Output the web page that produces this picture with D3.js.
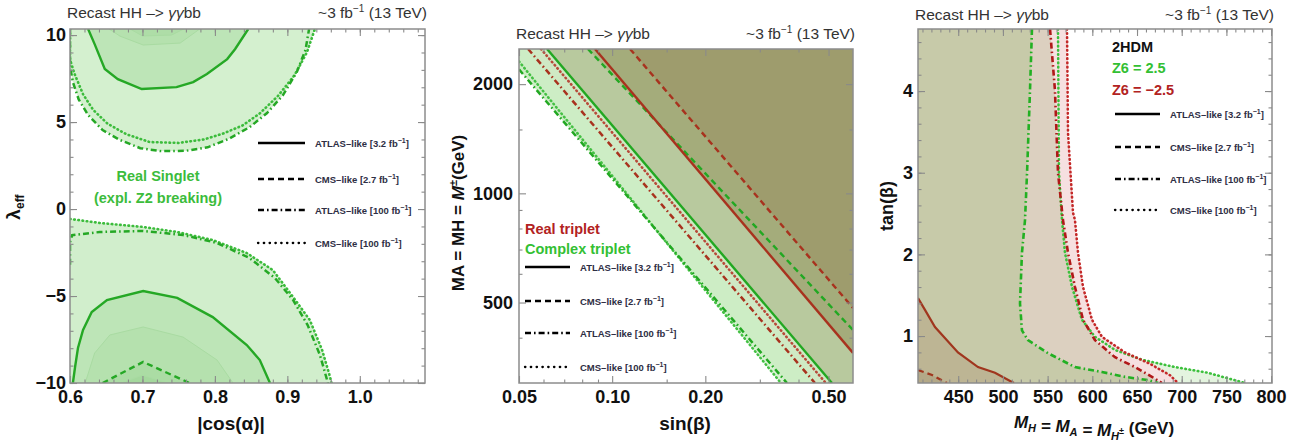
<!DOCTYPE html>
<html>
<head>
<meta charset="utf-8">
<script src="https://cdn.jsdelivr.net/npm/d3@7"></script>
<style>
body { margin: 0; background: #fff; }
text { font-family: "Liberation Sans", Arial, sans-serif; }
</style>
</head>
<body>
<svg id="chart" width="1315" height="444"></svg>
<script>
// ---------------- panel 1 : real singlet (|cos a| vs lambda_eff) ----------------
var singletTicksX = [0.6, 0.7, 0.8, 0.9, 1.0];
var singletTicksY = [-10, -5, 0, 5, 10];
var singletDashDotTop = [[0.6,10.35],[0.6,8.2],[0.604,7.3],[0.612,6.3],[0.625,5.4],[0.645,4.54],[0.669,3.97],[0.697,3.5],[0.725,3.33],[0.76,3.35],[0.79,3.55],[0.82,4.05],[0.848,4.71],[0.872,5.52],[0.894,6.55],[0.913,7.87],[0.925,9.14],[0.93,10.35]];
var singletDottedTop = [[0.6,10.35],[0.6,8.6],[0.606,7.8],[0.618,6.6],[0.632,5.7],[0.652,4.9],[0.678,4.3],[0.71,3.85],[0.75,3.8],[0.785,4.0],[0.812,4.35],[0.838,4.8],[0.862,5.5],[0.887,6.5],[0.91,7.7],[0.927,9.0],[0.938,10.35]];
var singletSolidTop = [[0.625,10.35],[0.634,9.48],[0.648,8.05],[0.666,7.47],[0.699,6.9],[0.747,7.01],[0.770,7.30],[0.789,7.76],[0.817,8.62],[0.828,9.2],[0.846,10.35]];
var singletFaintTop1 = [[0.654,10.35],[0.669,9.94],[0.701,9.43],[0.752,9.54],[0.779,10.35]];
var singletFaintTop2 = [[0.683,10.35],[0.70,9.95],[0.74,10.0],[0.757,10.35]];
var singletDottedBot = [[0.6,-0.57],[0.641,-0.8],[0.701,-1.03],[0.748,-1.32],[0.797,-1.78],[0.844,-2.53],[0.88,-3.51],[0.908,-5.06],[0.931,-6.38],[0.948,-8.1],[0.959,-9.66],[0.961,-10]];
var singletDashDotBot = [[0.6,-3.2],[0.6,-1.9],[0.603,-1.5],[0.641,-1.32],[0.701,-1.26],[0.756,-1.49],[0.803,-1.95],[0.848,-2.82],[0.883,-3.97],[0.908,-5.23],[0.928,-6.67],[0.945,-8.39],[0.956,-10]];
var singletSolidBot = [[0.604,-10],[0.607,-9.08],[0.611,-7.99],[0.618,-6.95],[0.63,-5.92],[0.651,-5.23],[0.701,-4.71],[0.748,-5.11],[0.797,-6.21],[0.844,-7.82],[0.862,-8.68],[0.876,-10]];
var singletFaintBot1 = [[0.621,-10],[0.634,-8.28],[0.655,-7.24],[0.701,-6.78],[0.756,-7.36],[0.803,-8.68],[0.825,-10]];
var singletDashedBot = [[0.645,-10],[0.701,-8.79],[0.765,-10]];
var singletFaintBot2 = [[0.67,-10],[0.70,-9.55],[0.735,-10]];

// ---------------- panel 2 : triplets (sin b vs MA) ----------------
var tripletTicksX = [0.05, 0.1, 0.2, 0.5];
var tripletTicksY = [500, 1000, 2000];
var complexDotted  = [[0.05,2310],[0.351,300]];
var complexDashDot = [[0.05,2196],[0.367,300]];
var realDashDot    = [[0.0535,2500],[0.452,300]];
var realDotted     = [[0.0589,2500],[0.49,300]];
var complexSolid   = [[0.0616,2500],[0.513,300]];
var complexDashed  = [[0.0835,2500],[0.6,420]];
var realSolid      = [[0.088,2500],[0.6,363]];
var realDashed     = [[0.1142,2500],[0.6,483]];

// ---------------- panel 3 : 2HDM (MH vs tan b) ----------------
var hdmTicksX = [450, 500, 550, 600, 650, 700, 750, 800];
var hdmTicksY = [1, 2, 3, 4];
var z6PosDashDot = [[532.5,4.76],[530.3,4.01],[527,3.0],[524.7,2.42],[521.3,2.02],[519.1,1.4],[521.3,1.07],[528,0.95],[550.4,0.79],[580.6,0.62],[610.8,0.56],[636.5,0.5],[662.3,0.46],[673.5,0.425]];
var z6PosDotted  = [[561.6,4.76],[562.7,3.0],[566.1,2.42],[569.4,2.02],[577.3,1.6],[588.4,1.2],[603,0.99],[625.4,0.83],[655.6,0.71],[692.5,0.62],[729.4,0.55],[770.8,0.425]];
var z6NegDashDot = [[552.7,4.76],[558.2,4.01],[561.6,3.0],[567.2,2.42],[572.8,2.02],[580.6,1.6],[589.6,1.2],[603,0.95],[625.4,0.74],[647.7,0.62],[666.7,0.5],[677.9,0.425]];
var z6NegDotted  = [[571.7,4.76],[572.8,3.49],[578.4,2.51],[580.6,2.42],[584,2.02],[589.6,1.6],[599.6,1.2],[610.8,0.99],[636.5,0.8],[664.5,0.66],[686.9,0.52],[695.8,0.425]];
var z6NegSolid   = [[405,1.465],[412.8,1.32],[424,1.11],[449.7,0.8],[472.1,0.62],[491.1,0.55],[510.1,0.437],[512.4,0.425]];
var z6NegDashed  = [[405,0.584],[420.7,0.523],[437.4,0.425]];

var legendNames = [["ATLAS\u2013like [3.2 fb", "solid"], ["CMS\u2013like [2.7 fb", "dashed"], ["ATLAS\u2013like [100 fb", "dashdot"], ["CMS\u2013like [100 fb", "dotted"]];

var svg = d3.select("#chart");
var defs = svg.append("defs");

var dashes = {solid: null, dashed: "6,4", dashdot: "6,3,1.6,3", dotted: "0.6,3.6"};

function makePanel(id, box, xScale, yScale) {
    var x = xScale.range([box.left, box.right]);
    var y = yScale.range([box.bottom, box.top]);
    defs.append("clipPath").attr("id", "clip_" + id)
        .append("rect")
        .attr("x", box.left).attr("y", box.top)
        .attr("width", box.right - box.left)
        .attr("height", box.bottom - box.top);
    var g = svg.append("g").attr("class", "panel_" + id);
    var plot = g.append("g").attr("clip-path", "url(#clip_" + id + ")");
    return {box: box, x: x, y: y, g: g, plot: plot};
}

// corner of the plotting domain: "bl", "br", "tl", "tr"
function corner(p, c) {
    var xd = p.x.domain(), yd = p.y.domain();
    return [c[1] == "l" ? xd[0] : xd[1], c[0] == "b" ? yd[0] : yd[1]];
}

function fillRegion(p, pts, corners, color) {
    var line = d3.line().x(d => p.x(d[0])).y(d => p.y(d[1]));
    var all = pts.concat(corners.map(c => corner(p, c)));
    p.plot.append("path")
        .attr("d", line(all) + "Z")
        .attr("fill", color)
        .attr("stroke", "none");
}

function drawCurve(p, pts, kind, color, width) {
    var line = d3.line().x(d => p.x(d[0])).y(d => p.y(d[1]));
    p.plot.append("path")
        .attr("d", line(pts))
        .attr("fill", "none")
        .attr("stroke", color)
        .attr("stroke-width", kind == "dotted" ? width + 0.4 : width)
        .attr("stroke-dasharray", dashes[kind])
        .attr("stroke-linecap", kind == "dotted" ? "round" : "butt");
}

function addAxes(p, xMajor, xMinor, yMajor, yMinor, xFmt, yFmt, yPad) {
    var b = p.box;
    var ax = p.g.append("g");
    var sides = [
        [d3.axisBottom(p.x), "translate(0," + b.bottom + ")", xMajor, xMinor, xFmt, 7],
        [d3.axisTop(p.x), "translate(0," + b.top + ")", xMajor, xMinor, null, 0],
        [d3.axisLeft(p.y), "translate(" + b.left + ",0)", yMajor, yMinor, yFmt, yPad],
        [d3.axisRight(p.y), "translate(" + b.right + ",0)", yMajor, yMinor, null, 0]
    ];
    sides.forEach(function (s) {
        var minor = ax.append("g").attr("transform", s[1])
            .call(s[0].tickValues(s[3]).tickSize(-3.5).tickFormat(""));
        minor.select(".domain").remove();
        var major = ax.append("g").attr("transform", s[1])
            .call(s[0].tickValues(s[2]).tickSize(-7).tickPadding(s[5])
                .tickFormat(s[4] ? s[4] : ""));
        major.select(".domain").remove();
        major.selectAll("text")
            .attr("fill", "#111")
            .style("font-size", "18px")
            .style("font-weight", "bold")
            .style("font-family", "'Liberation Sans', Arial, sans-serif");
    });
    ax.selectAll(".tick line").attr("stroke", "#8a8a8a").attr("stroke-width", 1.1);
    ax.append("rect")
        .attr("x", b.left).attr("y", b.top)
        .attr("width", b.right - b.left).attr("height", b.bottom - b.top)
        .attr("fill", "none").attr("stroke", "#8c8c8c").attr("stroke-width", 1.5);
}

function addHeader(p, y) {
    var b = p.box;
    var t = p.g.append("text").attr("x", b.left - 3).attr("y", y)
        .style("font-size", "15.5px").attr("fill", "#333");
    t.append("tspan").text("Recast HH \u2013> ");
    t.append("tspan").style("font-style", "italic").text("\u03b3\u03b3");
    t.append("tspan").text("bb");
    var r = p.g.append("text").attr("x", b.right + 2).attr("y", y)
        .attr("text-anchor", "end")
        .style("font-size", "15.5px").attr("fill", "#333");
    r.append("tspan").text("~3 fb");
    r.append("tspan").attr("dy", -6).style("font-size", "10px").text("\u22121");
    r.append("tspan").attr("dy", 6).text(" (13 TeV)");
}

function addLegend(p, x0, x1, rows) {
    legendNames.forEach(function (d, i) {
        p.g.append("line")
            .attr("x1", x0).attr("x2", x1)
            .attr("y1", rows[i]).attr("y2", rows[i])
            .attr("stroke", "#000")
            .attr("stroke-width", d[1] == "dotted" ? 2.3 : 2.4)
            .attr("stroke-dasharray", d[1] == "dotted" ? "0.4,5.4" : dashes[d[1]])
            .attr("stroke-linecap", d[1] == "dotted" ? "round" : "butt");
        var t = p.g.append("text")
            .attr("x", x1 + 10).attr("y", rows[i] + 4)
            .style("font-size", "9.5px").style("font-weight", "bold")
            .attr("fill", "#2e2e44");
        t.append("tspan").text(d[0]);
        t.append("tspan").attr("dy", -4).style("font-size", "7px").text("\u22121");
        t.append("tspan").attr("dy", 4).text("]");
    });
}

function boldText(p, x, y, str, color, size, anchor) {
    return p.g.append("text").attr("x", x).attr("y", y)
        .attr("text-anchor", anchor || "start")
        .style("font-size", (size || 14) + "px").style("font-weight", "bold")
        .attr("fill", color).text(str);
}

//
// PANEL 1
//
var p1 = makePanel("singlet", {left: 70, right: 425, top: 29, bottom: 383},
    d3.scaleLinear().domain([0.6, 1.09]), d3.scaleLinear().domain([-10, 10.35]));

fillRegion(p1, singletDashDotTop, [], "#d4f0cf");
fillRegion(p1, singletDottedTop, [], "#d4f0cf");
fillRegion(p1, singletSolidTop, [], "#bde5b7");
fillRegion(p1, singletFaintTop1, [], "#b5e1ae");
fillRegion(p1, singletFaintTop2, [], "#aedda7");
fillRegion(p1, singletDottedBot, ["bl"], "#d4f0cf");
fillRegion(p1, singletDashDotBot, ["bl"], "#d1eecc");
fillRegion(p1, singletSolidBot, [], "#bde5b7");
fillRegion(p1, singletFaintBot1, [], "#b5e1ae");
fillRegion(p1, singletDashedBot, [], "#abdca4");
fillRegion(p1, singletFaintBot2, [], "#a4d89d");

var g1 = "#25a825";
drawCurve(p1, singletFaintTop1, "solid", "#a9dba2", 1);
drawCurve(p1, singletFaintTop2, "solid", "#a9dba2", 1);
drawCurve(p1, singletFaintBot1, "solid", "#a9dba2", 1);
drawCurve(p1, singletFaintBot2, "solid", "#a9dba2", 1);
drawCurve(p1, singletDottedTop, "dotted", "#3cbc3c", 2.2);
drawCurve(p1, singletDashDotTop, "dashdot", g1, 2.5);
drawCurve(p1, singletSolidTop, "solid", g1, 2.4);
drawCurve(p1, singletDottedBot, "dotted", "#3cbc3c", 2.2);
drawCurve(p1, singletDashDotBot, "dashdot", g1, 2.5);
drawCurve(p1, singletSolidBot, "solid", g1, 2.4);
drawCurve(p1, singletDashedBot, "dashed", g1, 2.4);

addAxes(p1, singletTicksX, d3.range(0.6, 1.09, 0.02), singletTicksY, d3.range(-10, 10.5, 1),
    d => d.toFixed(1), d => d < 0 ? "\u2212" + Math.abs(d) : d, 4);
addHeader(p1, 18);
addLegend(p1, 258, 305, [143, 179, 210, 243]);
boldText(p1, 158, 181, "Real Singlet", "#3cbc3c", 14.5, "middle");
boldText(p1, 158, 203, "(expl. Z2 breaking)", "#3cbc3c", 14.5, "middle");

p1.g.append("text").attr("x", 231).attr("y", 430).attr("text-anchor", "middle")
    .style("font-size", "19px").style("font-weight", "bold").attr("fill", "#111")
    .text("|cos(\u03b1)|");
var l1 = p1.g.append("text").attr("transform", "translate(20,207) rotate(-90)")
    .attr("text-anchor", "middle")
    .style("font-size", "19px").style("font-weight", "bold").attr("fill", "#111");
l1.append("tspan").text("\u03bb");
l1.append("tspan").attr("dy", 4).style("font-size", "12px").text("eff");

//
// PANEL 2
//
var p2 = makePanel("triplet", {left: 519, right: 853, top: 49, bottom: 383},
    d3.scaleLog().domain([0.05, 0.6]), d3.scaleLog().domain([300, 2500]));

fillRegion(p2, complexDotted, ["br", "tr", "tl"], "#d8f2d2");
fillRegion(p2, complexDashDot, ["br", "tr", "tl"], "#cdedc5");
fillRegion(p2, realDashDot, ["br", "tr", "tl"], "#cfe9c4");
fillRegion(p2, complexSolid, ["br", "tr", "tl"], "#b8c99e");
fillRegion(p2, complexDashed, ["br", "tr", "tl"], "#acb986");
fillRegion(p2, realSolid, ["br", "tr", "tl"], "#a4ac7b");
fillRegion(p2, realDashed, ["br", "tr", "tl"], "#9e9c6d");

var g2 = "#22a822", r2 = "#a8321e";
drawCurve(p2, complexDotted, "dotted", "#44c044", 2.2);
drawCurve(p2, complexDashDot, "dashdot", g2, 2.5);
drawCurve(p2, realDashDot, "dashdot", r2, 2.5);
drawCurve(p2, realDotted, "dotted", "#b84a3a", 2.2);
drawCurve(p2, complexSolid, "solid", g2, 2.4);
drawCurve(p2, complexDashed, "dashed", g2, 2.4);
drawCurve(p2, realSolid, "solid", r2, 2.4);
drawCurve(p2, realDashed, "dashed", r2, 2.4);

addAxes(p2, tripletTicksX, [0.06, 0.07, 0.08, 0.09, 0.15, 0.3, 0.4], tripletTicksY, [400, 600, 700, 800, 900, 1500],
    d => d.toFixed(2), d => d, 6);
addHeader(p2, 39);
addLegend(p2, 525, 570, [267, 301, 333, 367]);
boldText(p2, 525, 234, "Real triplet", "#b22222", 14.5);
boldText(p2, 525, 254, "Complex triplet", "#33c033", 14.5);

p2.g.append("text").attr("x", 685).attr("y", 430).attr("text-anchor", "middle")
    .style("font-size", "19px").style("font-weight", "bold").attr("fill", "#111")
    .text("sin(\u03b2)");
var l2 = p2.g.append("text").attr("transform", "translate(464,213) rotate(-90)")
    .attr("text-anchor", "middle")
    .style("font-size", "17px").style("font-weight", "bold").attr("fill", "#111");
l2.append("tspan").text("MA = MH = ");
l2.append("tspan").style("font-style", "italic").text("M");
l2.append("tspan").attr("dy", -7).style("font-size", "11px").text("\u00b1");
l2.append("tspan").attr("dy", 7).text("(GeV)");

//
// PANEL 3
//
var p3 = makePanel("hdm", {left: 918, right: 1272, top: 29, bottom: 383},
    d3.scaleLinear().domain([405, 801]), d3.scaleLinear().domain([0.425, 4.76]));

fillRegion(p3, z6PosDotted, ["bl", "tl"], "#e4f4df");
fillRegion(p3, z6NegDotted, ["bl", "tl"], "#f6e0e0");
fillRegion(p3, z6NegDashDot, ["bl", "tl"], "#dcd0c0");
fillRegion(p3, z6PosDashDot, ["bl", "tl"], "#c7caa9");
fillRegion(p3, z6NegSolid, ["bl"], "#bdb594");
fillRegion(p3, z6NegDashed, ["bl"], "#b3a887");

var g3 = "#22b022", r3 = "#b01818";
drawCurve(p3, z6PosDotted, "dotted", "#3cc03c", 2.2);
drawCurve(p3, z6NegDotted, "dotted", "#c42828", 2.2);
drawCurve(p3, z6NegDashDot, "dashdot", r3, 2.6);
drawCurve(p3, z6PosDashDot, "dashdot", g3, 2.6);
drawCurve(p3, z6NegSolid, "solid", "#a0361e", 2.2);
drawCurve(p3, z6NegDashed, "dashed", "#a0361e", 2.2);

addAxes(p3, hdmTicksX, d3.range(410, 801, 10), hdmTicksY, d3.range(0.6, 4.8, 0.2),
    d => d, d => d, 5);
addHeader(p3, 20);
addLegend(p3, 1115, 1160, [114, 147, 179, 210]);
boldText(p3, 1112, 52, "2HDM", "#111", 14.5);
boldText(p3, 1112, 73, "Z6 = 2.5", "#33c033", 14.5);
boldText(p3, 1112, 95, "Z6 = \u22122.5", "#b22222", 14.5);

var l3x = p3.g.append("text").attr("x", 1094).attr("y", 428).attr("text-anchor", "middle")
    .style("font-size", "17px").style("font-weight", "bold").attr("fill", "#111");
[["M", "H", ""], [" = M", "A", ""], [" = M", "H", "\u00b1"]].forEach(function (d) {
    l3x.append("tspan").style("font-style", "italic").text(d[0]);
    l3x.append("tspan").attr("dy", 4).style("font-size", "11px").style("font-style", "italic").text(d[1]);
    if (d[2]) {
        l3x.append("tspan").attr("dy", -6).style("font-size", "9px").text(d[2]);
        l3x.append("tspan").attr("dy", 2).text("");
    } else {
        l3x.append("tspan").attr("dy", -4).text("");
    }
});
l3x.append("tspan").text(" (GeV)");
p3.g.append("text").attr("transform", "translate(893,206) rotate(-90)")
    .attr("text-anchor", "middle")
    .style("font-size", "18px").style("font-weight", "bold").attr("fill", "#111")
    .text("tan(\u03b2)");
</script>
</body>
</html>
